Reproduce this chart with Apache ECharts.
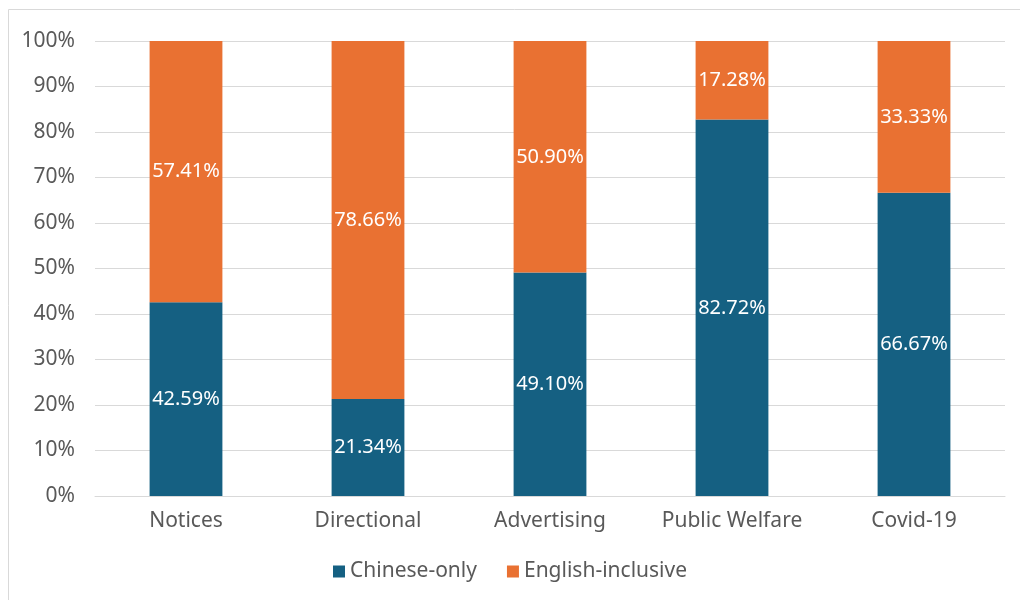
<!DOCTYPE html>
<html><head><meta charset="utf-8">
<script src="https://cdn.jsdelivr.net/npm/echarts@6/dist/echarts.min.js"></script>
<style>html,body{margin:0;padding:0;background:#fff}#c{width:1020px;height:600px}</style>
</head><body><div id="c"></div>
<script>
const categories = ['Notices', 'Directional', 'Advertising', 'Public Welfare', 'Covid-19'];
const chineseOnly = [42.59, 21.34, 49.10, 82.72, 66.67];
const englishInclusive = [57.41, 78.66, 50.90, 17.28, 33.33];
const yTicks = [0, 10, 20, 30, 40, 50, 60, 70, 80, 90, 100];

const font = '"Noto Sans", "Liberation Sans", sans-serif';
const chart = echarts.init(document.getElementById('c'));
const lbl = {
  show: true, position: 'inside', color: '#fff', fontSize: 20, fontFamily: font,
  formatter: p => p.value.toFixed(2) + '%'
};
chart.setOption({
  animation: false,
  graphic: [{
    type: 'rect', shape: { x: 8.5, y: 9.5, width: 1030, height: 620 },
    style: { fill: 'none', stroke: '#d9d9d9', lineWidth: 1 }, silent: true
  }],
  grid: { left: 95, right: 15, top: 41, bottom: 104, containLabel: false },
  legend: {
    bottom: 13, left: 'center', itemWidth: 12, itemHeight: 12, itemGap: 30,
    icon: 'rect',
    textStyle: { fontSize: 21, color: '#595959', fontFamily: font },
    data: ['Chinese-only', 'English-inclusive']
  },
  xAxis: {
    type: 'category', data: categories,
    axisLine: { lineStyle: { color: '#d9d9d9' } },
    axisTick: { show: false },
    axisLabel: { fontSize: 21, color: '#595959', fontFamily: font, margin: 15, interval: 0, hideOverlap: false }
  },
  yAxis: {
    type: 'value', min: 0, max: 100, interval: 10,
    axisLabel: { fontSize: 21, color: '#595959', fontFamily: font, margin: 20,
      formatter: v => yTicks.includes(v) ? v + '%' : '' },
    splitLine: { lineStyle: { color: '#d9d9d9' } },
    axisLine: { show: false }, axisTick: { show: false }
  },
  series: [
    { name: 'Chinese-only', type: 'bar', stack: 's', data: chineseOnly, barWidth: '40%',
      itemStyle: { color: '#156082' }, label: lbl },
    { name: 'English-inclusive', type: 'bar', stack: 's', data: englishInclusive, barWidth: '40%',
      itemStyle: { color: '#E97132' }, label: lbl }
  ]
});
</script></body></html>
